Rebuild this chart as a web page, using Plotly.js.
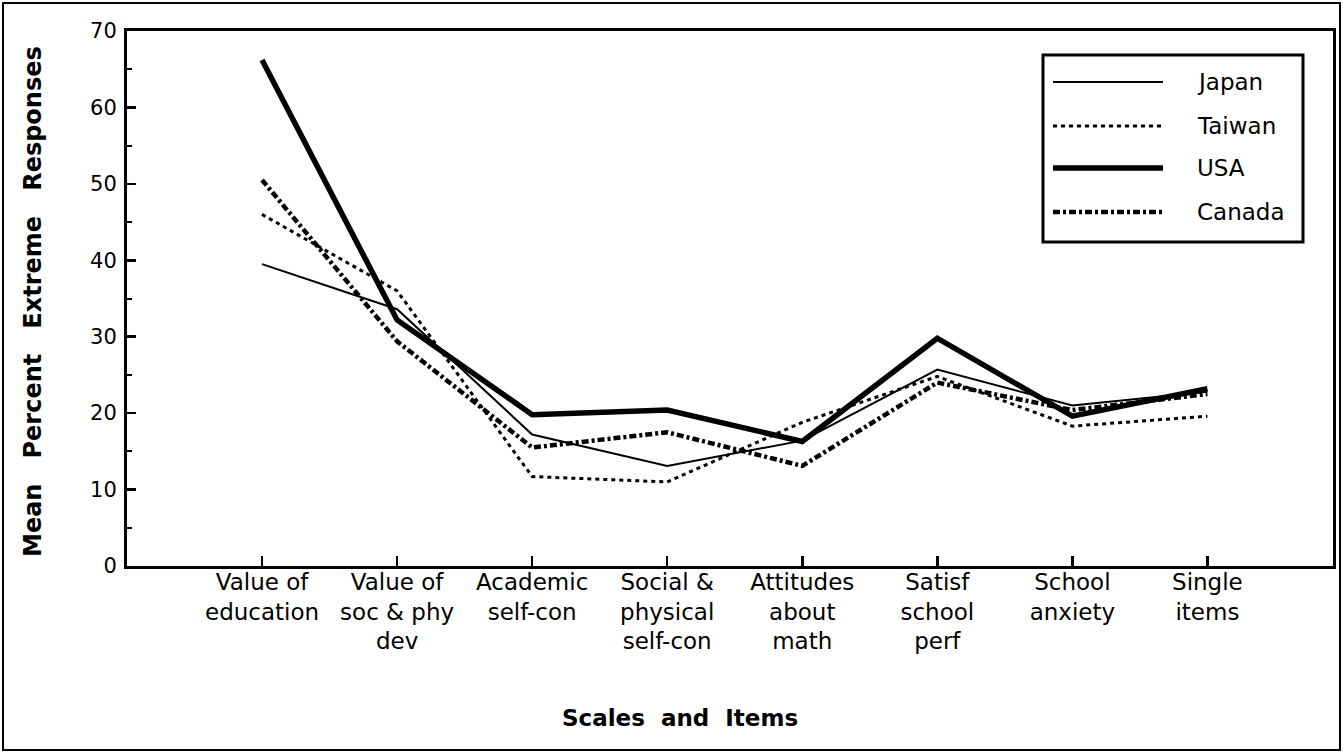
<!DOCTYPE html>
<html>
<head>
<meta charset="utf-8">
<script src="https://cdn.plot.ly/plotly-3.0.1.min.js"></script>
<style>html,body{margin:0;padding:0;background:#fff;}#chart{width:1343px;height:753px;}</style>
</head>
<body>
<div id="chart"></div>
<script>
// ---- data ----
var categories = ["Value of<br>education", "Value of<br>soc &amp; phy<br>dev", "Academic<br>self-con",
  "Social &amp;<br>physical<br>self-con", "Attitudes<br>about<br>math", "Satisf<br>school<br>perf",
  "School<br>anxiety", "Single<br>items"];
var catIndex = [0, 1, 2, 3, 4, 5, 6, 7];
var seriesNames = ["Japan", "Taiwan", "USA", "Canada"];
var japan  = [39.5, 33.6, 17.2, 13.1, 16.4, 25.7, 21.0, 22.8];
var taiwan = [46.0, 36.0, 11.7, 11.0, 18.8, 24.8, 18.3, 19.6];
var usa    = [66.2, 32.2, 19.8, 20.4, 16.3, 29.8, 19.6, 23.2];
var canada = [50.5, 29.4, 15.5, 17.5, 13.1, 24.0, 20.4, 22.5];
var yTicks = [0, 10, 20, 30, 40, 50, 60, 70];

// ---- styles ----
var styles = [
  {color: "#000", width: 2,   dash: "solid"},
  {color: "#000", width: 3,   dash: "4px,4px"},
  {color: "#000", width: 5.5, dash: "solid"},
  {color: "#000", width: 4.5, dash: "7px,3px,3px,3px"}
];
var values = [japan, taiwan, usa, canada];

var traces = values.map(function (v, i) {
  return {
    x: catIndex, y: v, name: seriesNames[i], type: "scatter", mode: "lines",
    line: styles[i], showlegend: false, hoverinfo: "skip"
  };
});

// plot area in pixels: x 127..1333, y 31..566
var L = 127, R = 1333, T = 31, B = 566;
function px(x) { return (x - L) / (R - L); }
function py(y) { return (B - y) / (B - T); }

var shapes = [];
var annotations = [];

// outer frame
shapes.push({type: "rect", xref: "paper", yref: "paper", x0: px(3), x1: px(1340), y0: py(3), y1: py(750),
  line: {color: "#000", width: 2}, fillcolor: "rgba(0,0,0,0)"});

// custom legend
shapes.push({type: "rect", xref: "paper", yref: "paper", x0: px(1043), x1: px(1303), y0: py(55), y1: py(242),
  line: {color: "#000", width: 3}, fillcolor: "#fff"});
var legRows = [82, 126, 168, 212];
seriesNames.forEach(function (n, i) {
  shapes.push({type: "line", xref: "paper", yref: "paper", x0: px(1053), x1: px(1163), y0: py(legRows[i]), y1: py(legRows[i]),
    line: styles[i]});
  annotations.push({xref: "paper", yref: "paper", x: px(1195), y: py(legRows[i]), xanchor: "left", yanchor: "middle",
    text: n, showarrow: false, font: {family: "DejaVu Sans", size: 23, color: "#000"}});
});

// axis titles
annotations.push({xref: "paper", yref: "paper", x: px(33), y: py(302), xanchor: "center", yanchor: "middle",
  textangle: -90, showarrow: false,
  text: "Mean\u00a0\u00a0\u00a0Percent\u00a0\u00a0\u00a0Extreme\u00a0\u00a0\u00a0Responses",
  font: {family: "DejaVu Sans", size: 24, color: "#000", weight: "bold"}});
annotations.push({xref: "paper", yref: "paper", x: px(680), y: py(718), xanchor: "center", yanchor: "middle",
  showarrow: false, text: "Scales\u00a0\u00a0and\u00a0\u00a0Items",
  font: {family: "DejaVu Sans", size: 23, color: "#000", weight: "bold"}});

var layout = {
  width: 1343, height: 753,
  margin: {l: L, r: 1343 - R, t: T, b: 753 - B, pad: 0},
  paper_bgcolor: "#fff", plot_bgcolor: "#fff",
  showlegend: false,
  xaxis: {
    type: "linear", range: [-1.0, 7.93], tickmode: "array", tickvals: catIndex, ticktext: categories,
    ticks: "inside", ticklen: 10, tickwidth: 2.5, tickcolor: "#000",
    showline: true, linewidth: 3, linecolor: "#000", mirror: true,
    showgrid: false, zeroline: false, ticklabelstandoff: -7,
    tickfont: {family: "DejaVu Sans", size: 23, color: "#000"}
  },
  yaxis: {
    range: [0, 70], tickmode: "array", tickvals: yTicks,
    ticks: "inside", ticklen: 9, tickwidth: 2.5, tickcolor: "#000",
    minor: {dtick: 5, ticks: "inside", ticklen: 5, tickwidth: 2, tickcolor: "#000", showgrid: false},
    showline: true, linewidth: 3, linecolor: "#000", mirror: true,
    showgrid: false, zeroline: false, ticklabelstandoff: 3,
    tickfont: {family: "DejaVu Sans", size: 21, color: "#000"}
  },
  shapes: shapes,
  annotations: annotations
};

Plotly.newPlot("chart", traces, layout, {staticPlot: true, displayModeBar: false});
</script>
</body>
</html>
